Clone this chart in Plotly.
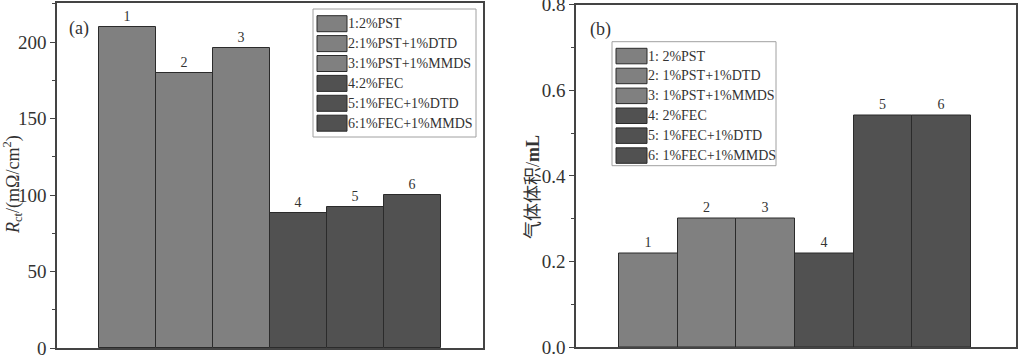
import plotly.graph_objects as go

# ---- data ----
labels = ["1", "2", "3", "4", "5", "6"]
positions = [1, 2, 3, 4, 5, 6]
rct_values = [210, 180, 196, 88.5, 92, 100]
gas_values = [0.22, 0.30, 0.30, 0.22, 0.54, 0.54]
legend_a = ["1:2%PST", "2:1%PST+1%DTD", "3:1%PST+1%MMDS", "4:2%FEC", "5:1%FEC+1%DTD", "6:1%FEC+1%MMDS"]
legend_b = ["1: 2%PST", "2: 1%PST+1%DTD", "3: 1%PST+1%MMDS", "4: 2%FEC", "5: 1%FEC+1%DTD", "6: 1%FEC+1%MMDS"]
yticks_a = [0, 50, 100, 150, 200]
yticks_b = [0, 0.2, 0.4, 0.6, 0.8]
yticktext_b = ["0.0", "0.2", "0.4", "0.6", "0.8"]

W, H = 1024, 355
LIGHT = "#808080"
DARK = "#515151"
EDGE = "#2b2b2b"
colors = [LIGHT, LIGHT, LIGHT, DARK, DARK, DARK]
SERIF = "Liberation Serif, Times New Roman, serif"
TXT = "#333333"

def px(x):
    return x / W

def py(y):
    return (H - y) / H

fig = go.Figure()
fig.add_trace(go.Bar(
    x=positions, y=rct_values, width=1, marker=dict(color=colors, line=dict(color=EDGE, width=1)),
    text=labels, textposition="outside", textfont=dict(family=SERIF, size=14, color=TXT),
    cliponaxis=False, showlegend=False, xaxis="x", yaxis="y"))
fig.add_trace(go.Bar(
    x=positions, y=gas_values, width=1, marker=dict(color=colors, line=dict(color=EDGE, width=1)),
    text=labels, textposition="outside", textfont=dict(family=SERIF, size=14, color=TXT),
    cliponaxis=False, showlegend=False, xaxis="x2", yaxis="y2"))

frame = dict(showline=True, linecolor="#444444", linewidth=1.5, mirror=True, showgrid=False, zeroline=False,
             automargin=False)
tickstyle = dict(ticks="outside", ticklen=5, tickcolor="#444444", ticklabeloverflow="allow",
                 tickfont=dict(family=SERIF, size=19, color=TXT))
fig.update_layout(
    width=W, height=H, margin=dict(l=0, r=0, t=0, b=0, autoexpand=False),
    paper_bgcolor="white", plot_bgcolor="white", bargap=0,
    font=dict(family=SERIF, color=TXT),
    xaxis=dict(domain=[px(57), px(483)], range=[-0.237, 7.237], showticklabels=False, ticks="", **frame),
    yaxis=dict(domain=[py(348), py(3)], range=[0, 225.5], tickvals=yticks_a,
               minor=dict(ticks="outside", ticklen=3, dtick=25, tickcolor="#444444"), **tickstyle, **frame),
    xaxis2=dict(domain=[px(576), px(1016)], range=[-0.234, 7.268], showticklabels=False, ticks="", anchor="y2", **frame),
    yaxis2=dict(domain=[py(347.3), py(4.5)], range=[0, 0.8], tickvals=yticks_b, ticktext=yticktext_b, anchor="x2",
                minor=dict(ticks="outside", ticklen=3, dtick=0.1, tickcolor="#444444"), **tickstyle, **frame),
)

shapes = []
annotations = []

def add_legend(names, box, sw_x0, sw_x1, first_top, pitch, sw_h, text_x):
    bx0, by0, bx1, by1 = box
    shapes.append(dict(type="rect", xref="paper", yref="paper", x0=px(bx0), x1=px(bx1), y0=py(by1), y1=py(by0),
                       line=dict(color="#a0a0a0", width=1), fillcolor="white", layer="above"))
    for i, name in enumerate(names):
        top = first_top + i * pitch
        shapes.append(dict(type="rect", xref="paper", yref="paper", x0=px(sw_x0), x1=px(sw_x1),
                           y0=py(top + sw_h), y1=py(top), fillcolor=colors[i],
                           line=dict(color=EDGE, width=1), layer="above"))
        annotations.append(dict(xref="paper", yref="paper", x=px(text_x), y=py(top + sw_h / 2),
                                xanchor="left", yanchor="middle", showarrow=False, text=name,
                                font=dict(family=SERIF, size=14, color=TXT)))

add_legend(legend_a, (313, 9, 476, 137), 317, 347, 15.7, 19.9, 16, 346)
add_legend(legend_b, (612, 41.7, 776, 165.7), 616, 647, 48.3, 19.9, 15.5, 646)

annotations.append(dict(xref="paper", yref="paper", x=px(79), y=py(28), xanchor="center", yanchor="middle",
                        text="(a)", showarrow=False, font=dict(family=SERIF, size=18, color=TXT)))
annotations.append(dict(xref="paper", yref="paper", x=px(600), y=py(29), xanchor="center", yanchor="middle",
                        text="(b)", showarrow=False, font=dict(family=SERIF, size=18, color=TXT)))
annotations.append(dict(xref="paper", yref="paper", x=px(12), y=py(185), xanchor="center", yanchor="middle",
                        textangle=-90, showarrow=False,
                        text="<i>R</i><sub>ct</sub>/(mΩ/cm<sup>2</sup>)",
                        font=dict(family=SERIF, size=18, color=TXT)))
annotations.append(dict(xref="paper", yref="paper", x=px(531), y=py(187), xanchor="center", yanchor="middle",
                        textangle=-90, showarrow=False,
                        text="<span style='font-family:Noto Sans CJK SC'>气体体积</span>/<b>mL</b>",
                        font=dict(family=SERIF, size=18, color=TXT)))

fig.update_layout(shapes=shapes, annotations=annotations)
fig.write_html("out.html", config={"displayModeBar": False},
               post_script="document.body.style.margin='0';document.body.style.padding='0';document.body.style.overflow='hidden';")
